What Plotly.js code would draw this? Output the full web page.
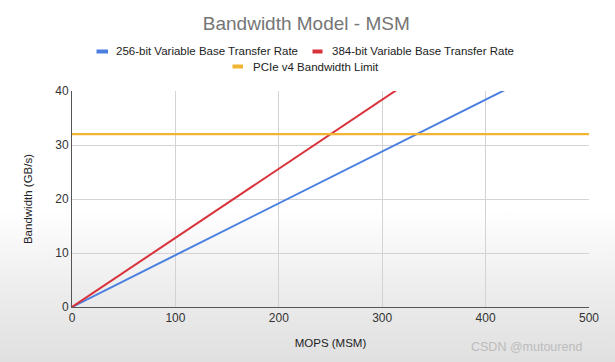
<!DOCTYPE html>
<html>
<head>
<meta charset="utf-8">
<script src="https://cdn.plot.ly/plotly-3.0.1.min.js"></script>
<style>
html,body{margin:0;padding:0;}
body{width:615px;height:362px;overflow:hidden;
background:linear-gradient(to bottom,#ffffff 0%,#ffffff 58%,#ededed 80%,#e0e0e0 100%);}
#chart{width:615px;height:362px;}
</style>
</head>
<body>
<div id="chart"></div>
<script>
// ---- data ----
const mops = [0, 100, 200, 300, 400, 500];
const bw256 = [0, 9.6, 19.2, 28.8, 38.4, 48];
const bw384 = [0, 12.8, 25.6, 38.4, 51.2, 64];
const pcieLimit = [32, 32, 32, 32, 32, 32];
const seriesNames = ["256-bit Variable Base Transfer Rate", "384-bit Variable Base Transfer Rate", "PCIe v4 Bandwidth Limit"];
const xTicks = [0, 100, 200, 300, 400, 500];
const yTicks = [0, 10, 20, 30, 40];

// ---- style ----
const FONT = "Liberation Sans, Arial, sans-serif";
const colors = ["#4a7fe0", "#d9323a", "#f2b531"];
const W = 615, H = 362;
const M = {l: 72, r: 26, t: 91, b: 55};
const pw = W - M.l - M.r, ph = H - M.t - M.b;
const px = p => (p - M.l) / pw;
const py = p => (H - M.b - p) / ph;

const traces = [
  {x: mops, y: bw256, name: seriesNames[0], mode: "lines", line: {color: colors[0], width: 2}},
  {x: mops, y: bw384, name: seriesNames[1], mode: "lines", line: {color: colors[1], width: 2}},
  {x: mops, y: pcieLimit, name: seriesNames[2], mode: "lines", line: {color: colors[2], width: 2.2}}
];

// custom legend (swatch + label)
const legendItems = [
  {sx0: 96.5, sx1: 108, tx: 114, ty: 51.5, i: 0},
  {sx0: 312.5, sx1: 322.5, tx: 330, ty: 51.5, i: 1},
  {sx0: 232.5, sx1: 243, tx: 251, ty: 66.5, i: 2}
];
const shapes = legendItems.map(it => ({
  type: "rect", xref: "paper", yref: "paper",
  x0: px(it.sx0), x1: px(it.sx1), y0: py(it.ty + 2), y1: py(it.ty - 2),
  fillcolor: colors[it.i], line: {width: 0}, layer: "above"
}));
const annotations = legendItems.map(it => ({
  xref: "paper", yref: "paper", x: px(it.tx), y: py(it.ty),
  xanchor: "left", yanchor: "middle", showarrow: false,
  text: seriesNames[it.i], font: {family: FONT, size: 11.5, color: "#222"}
}));
annotations.push({
  xref: "paper", yref: "paper", x: px(584), y: py(347),
  xanchor: "right", yanchor: "middle", showarrow: false,
  text: "CSDN @mutourend", font: {family: FONT, size: 12.5, color: "#bcbcbc"}
});

const layout = {
  width: W, height: H,
  margin: M,
  paper_bgcolor: "rgba(0,0,0,0)",
  plot_bgcolor: "rgba(0,0,0,0)",
  showlegend: false,
  font: {family: FONT, color: "#333"},
  title: {text: "Bandwidth Model - MSM", font: {family: FONT, size: 19, color: "#757575"},
          x: 0.498, xanchor: "center", y: 1 - 23 / H, yanchor: "middle"},
  xaxis: {
    range: [0, 500], tickvals: xTicks, ticktext: xTicks.map(String),
    showgrid: true, gridcolor: "#d3d3d3", gridwidth: 1,
    zeroline: false, showline: true, linecolor: "#555", linewidth: 1,
    ticks: "", tickfont: {family: FONT, size: 12, color: "#333"},
    title: {text: "MOPS (MSM)", font: {family: FONT, size: 11.5, color: "#222"}, standoff: 14},
    fixedrange: true
  },
  yaxis: {
    range: [0, 40], tickvals: yTicks, ticktext: yTicks.map(String),
    showgrid: true, gridcolor: "#d3d3d3", gridwidth: 1,
    zeroline: false, showline: true, linecolor: "#555", linewidth: 1,
    ticks: "", tickfont: {family: FONT, size: 12, color: "#333"},
    title: {text: "Bandwidth (GB/s)", font: {family: FONT, size: 11.5, color: "#222"}, standoff: 20},
    fixedrange: true
  },
  shapes: shapes,
  annotations: annotations
};

Plotly.newPlot("chart", traces, layout, {displayModeBar: false, staticPlot: true});
</script>
</body>
</html>
